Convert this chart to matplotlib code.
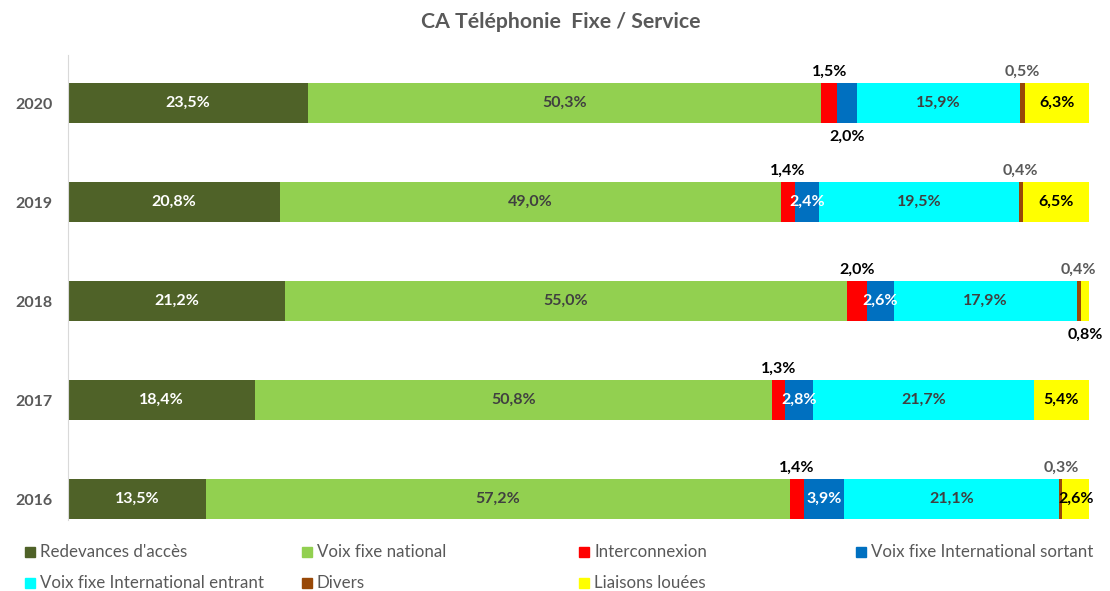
import matplotlib.pyplot as plt
from matplotlib.patches import Rectangle

# Données (parts du CA en %)
years = ['2016', '2017', '2018', '2019', '2020']
series = ["Redevances d'accès", "Voix fixe national", "Interconnexion",
          "Voix fixe International sortant", "Voix fixe International entrant",
          "Divers", "Liaisons louées"]
redevances = [13.5, 18.4, 21.2, 20.8, 23.5]
national = [57.2, 50.8, 55.0, 49.0, 50.3]
interco = [1.4, 1.3, 2.0, 1.4, 1.5]
sortant = [3.9, 2.8, 2.6, 2.4, 2.0]
entrant = [21.1, 21.7, 17.9, 19.5, 15.9]
divers = [0.3, 0.0, 0.4, 0.4, 0.5]
liaisons = [2.6, 5.4, 0.8, 6.5, 6.3]

values = [redevances, national, interco, sortant, entrant, divers, liaisons]
colors = ['#4F6228', '#92D050', '#FF0000', '#0070C0', '#00FFFF', '#984807', '#FFFF00']
txt_in = ['white', '#404040', 'black', 'white', '#404040', 'black', 'black']
txt_out = [None, None, 'black', 'black', None, '#595959', 'black']
out_side = [0, 0, 1, -1, 0, 1, -1]   # 1 = au-dessus, -1 = en dessous

plt.rcParams['font.family'] = ['Lato', 'DejaVu Sans']

fig = plt.figure(figsize=(11.1, 5.91), dpi=100)
ax = fig.add_axes([68/1110, 1-520/591, 1021/1110, 465/591])

# barres empilées à 100 % (chaque année ramenée à son total)
totals = [sum(v[i] for v in values) for i in range(len(years))]
left = [0.0]*len(years)
for s, vals in enumerate(values):
    w = [vals[i]/totals[i]*100 for i in range(len(years))]
    ax.barh(range(len(years)), w, left=left, height=0.40, color=colors[s])
    for i, v in enumerate(vals):
        if v <= 0:
            continue
        xc = left[i] + w[i]/2
        lab = f"{v:.1f}%".replace('.', ',')
        if v < 2.2 and out_side[s] != 0:
            dy = 0.315 if out_side[s] > 0 else -0.345
            ax.text(xc, i + dy, lab, ha='center', va='center', fontsize=11.5,
                    fontweight='bold', color=txt_out[s], clip_on=False)
        else:
            ax.text(xc, i, lab, ha='center', va='center', fontsize=11.5,
                    fontweight='bold', color=txt_in[s])
        left[i] += w[i]

ax.set_xlim(0, 100)
ax.set_ylim(-0.212, 4.485)
ax.set_yticks(range(len(years)))
ax.set_yticklabels(years, fontsize=11.5, fontweight='bold', color='#595959')
ax.tick_params(axis='y', length=0, pad=11)
ax.set_xticks([])
for sp in ['top', 'right', 'bottom']:
    ax.spines[sp].set_visible(False)
ax.spines['left'].set_color('#D9D9D9')

fig.text(0.505, 1-22/591, "CA Téléphonie  Fixe / Service", ha='center', va='center',
         fontsize=15.3, fontweight='bold', color='#595959')

# Légende sur deux lignes
for k, name in enumerate(series):
    col, row = k % 4, k // 4
    x0 = 25 + 277*col
    y0 = 552 + 31*row
    fig.add_artist(Rectangle((x0/1110, 1-(y0+5)/591), 10/1110, 10/591,
                             transform=fig.transFigure, color=colors[k]))
    fig.text((x0+15)/1110, 1-y0/591, name, ha='left', va='center',
             fontsize=12.2, color='#595959')

plt.savefig('out.png', dpi=100)
